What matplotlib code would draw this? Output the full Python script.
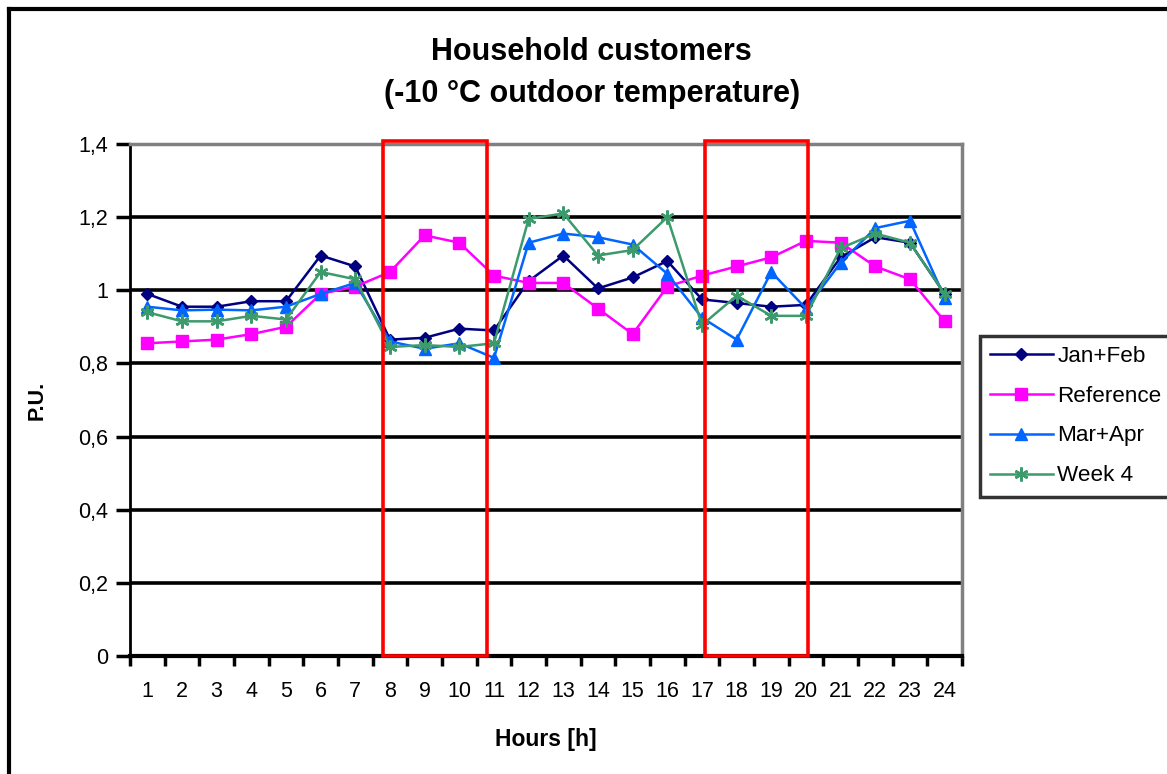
import matplotlib
matplotlib.use("Agg")
import matplotlib.pyplot as plt
from matplotlib.patches import Rectangle
from matplotlib.lines import Line2D
from matplotlib.ticker import FixedLocator

plt.rcParams["font.family"] = ["Liberation Sans", "DejaVu Sans"]

# data
hours = list(range(1, 25))
jan_feb = [0.99, 0.955, 0.955, 0.97, 0.97, 1.095, 1.065, 0.865, 0.87, 0.895,
           0.89, 1.025, 1.095, 1.005, 1.035, 1.08, 0.975, 0.965, 0.955, 0.96,
           1.09, 1.145, 1.13, 0.99]
reference = [0.855, 0.86, 0.865, 0.88, 0.90, 0.99, 1.01, 1.05, 1.15, 1.13,
             1.04, 1.02, 1.02, 0.95, 0.88, 1.01, 1.04, 1.065, 1.09, 1.135,
             1.13, 1.065, 1.03, 0.915]
mar_apr = [0.955, 0.945, 0.947, 0.945, 0.955, 0.99, 1.02, 0.86, 0.84, 0.855,
           0.815, 1.13, 1.155, 1.145, 1.125, 1.045, 0.925, 0.865, 1.05, 0.95,
           1.075, 1.17, 1.19, 0.98]
week4 = [0.94, 0.915, 0.915, 0.93, 0.92, 1.05, 1.03, 0.845, 0.85, 0.845,
         0.855, 1.195, 1.21, 1.095, 1.11, 1.2, 0.905, 0.985, 0.93, 0.93,
         1.115, 1.155, 1.13, 0.99]

y_ticks = [0, 0.2, 0.4, 0.6, 0.8, 1.0, 1.2, 1.4]
y_ticklabels = ["0", "0,2", "0,4", "0,6", "0,8", "1", "1,2", "1,4"]

# highlighted hour windows (x start, x end)
windows = [(7.8, 10.8), (17.08, 20.06)]

fig = plt.figure(figsize=(11.67, 7.74), dpi=100)
ax = fig.add_axes([0.1114, 0.1525, 0.7129, 0.6615])

for y in y_ticks[1:-1]:
    ax.axhline(y, color="black", linewidth=2.6, zorder=1)

ax.plot(hours, jan_feb, color="#000080", marker="D", markersize=6.5,
        linewidth=1.8, label="Jan+Feb", zorder=3)
ax.plot(hours, reference, color="#FF00FF", marker="s", markersize=8.5,
        linewidth=1.8, label="Reference", zorder=3)
ax.plot(hours, mar_apr, color="#0066FF", marker="^", markersize=9,
        linewidth=1.8, label="Mar+Apr", zorder=3)
ax.plot(hours, week4, color="#3d9a6c", marker=(6, 2, 0), markersize=10,
        markeredgewidth=1.8, linewidth=1.8, label="Week 4", zorder=3)

for x0, x1 in windows:
    ax.add_patch(Rectangle((x0, 0), x1 - x0, 1.408, fill=False,
                           edgecolor="#FF0000", linewidth=2.6, zorder=4,
                           clip_on=False))

ax.set_xlim(0.5, 24.5)
ax.set_ylim(0, 1.4)
ax.set_xticks(hours)
ax.set_xticklabels([str(h) for h in hours])
ax.xaxis.set_minor_locator(FixedLocator([h + 0.5 for h in range(0, 25)]))
ax.tick_params(axis="x", which="major", length=0, pad=18, labelsize=15.5)
ax.tick_params(axis="x", which="minor", length=7, width=2.5, direction="out")
ax.set_yticks(y_ticks)
ax.set_yticklabels(y_ticklabels)
ax.tick_params(axis="y", length=10, width=2.5, pad=6, labelsize=15.5)

for side in ("left", "bottom"):
    ax.spines[side].set_color("black")
ax.spines["left"].set_linewidth(2)
ax.spines["bottom"].set_linewidth(3)
for side in ("top", "right"):
    ax.spines[side].set_color("#808080")
    ax.spines[side].set_linewidth(2.5)

ax.set_xlabel("Hours [h]", fontsize=16.5, fontweight="bold", labelpad=19)
ax.set_ylabel("P.U.", fontsize=15.5, fontweight="bold", labelpad=22)
fig.suptitle("Household customers\n(-10 °C outdoor temperature)",
             fontsize=22, fontweight="bold", x=0.507, y=0.952,
             linespacing=1.5)

leg = ax.legend(loc="center left", bbox_to_anchor=(0.8395, 0.4625),
                bbox_transform=fig.transFigure, fontsize=16.2, frameon=True,
                fancybox=False, edgecolor="black", handlelength=2.8,
                handletextpad=0.2, labelspacing=0.84, borderpad=0.45,
                borderaxespad=0)
leg.get_frame().set_linewidth(2.5)

# outer chart frame
fig.add_artist(Line2D([0.0077, 0.0077], [0, 0.988], color="black",
                      linewidth=3, transform=fig.transFigure))
fig.add_artist(Line2D([0.0077, 1.0], [0.988, 0.988], color="black",
                      linewidth=3, transform=fig.transFigure))

fig.savefig("out.png", dpi=100)
